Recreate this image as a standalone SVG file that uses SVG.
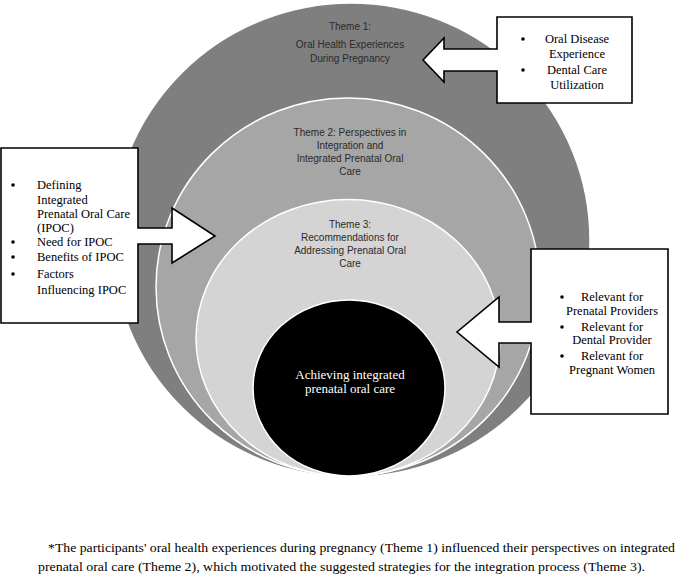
<svg xmlns="http://www.w3.org/2000/svg" width="685" height="577" viewBox="0 0 685 577">
<style>
.ring{stroke:#ffffff;stroke-width:1.5}
.theme{font-family:"Liberation Sans",Arial,sans-serif;font-size:10px;fill:#2a2a2a;text-anchor:middle}
.box{fill:#ffffff;stroke:#000000;stroke-width:1.6;stroke-linejoin:miter}
.bt{font-family:"Liberation Serif","Times New Roman",serif;font-size:12.5px;fill:#000000}
.wt{font-family:"Liberation Serif","Times New Roman",serif;font-size:13px;fill:#ffffff;text-anchor:middle}
.mid{text-anchor:middle}
.bul{fill:#000000}
.cap{font-family:"Liberation Serif","Times New Roman",serif;font-size:13.5px;fill:#000000}
</style>
<rect width="685" height="577" fill="#ffffff"/>
<g id="theme1">
<ellipse class="ring" cx="351" cy="240" rx="239" ry="237" fill="#7f7f7f"/>
<text class="theme" x="350" y="30">Theme 1:</text>
<text class="theme" x="350" y="48">Oral Health Experiences</text>
<text class="theme" x="350" y="62">During Pregnancy</text>
</g>
<g id="theme2">
<ellipse class="ring" cx="348" cy="287" rx="192" ry="189" fill="#a6a6a6"/>
<text class="theme" x="350" y="136">Theme 2: Perspectives in</text>
<text class="theme" x="350" y="149">Integration and</text>
<text class="theme" x="350" y="162">Integrated Prenatal Oral</text>
<text class="theme" x="350" y="175">Care</text>
</g>
<g id="theme3">
<ellipse class="ring" cx="348" cy="338" rx="152" ry="138.5" fill="#d4d4d4"/>
<text class="theme" x="350" y="228">Theme 3:</text>
<text class="theme" x="350" y="241">Recommendations for</text>
<text class="theme" x="350" y="254">Addressing Prenatal Oral</text>
<text class="theme" x="350" y="267">Care</text>
</g>
<g id="center">
<ellipse class="ring" cx="349" cy="388" rx="96" ry="88" fill="#000000"/>
<text class="wt" x="350" y="379">Achieving integrated</text>
<text class="wt" x="350" y="393">prenatal oral care</text>
</g>
<g id="connectors"></g>
<g id="box-top-right">
<path class="box" d="M497,17 H632 V103 H497 V71 H444 V82 L423,60 L444,38 V49 H497 Z"/>
<circle class="bul" cx="523" cy="39" r="1.8"/>
<circle class="bul" cx="523" cy="70" r="1.8"/>
<text class="bt mid" x="577" y="43">Oral Disease</text>
<text class="bt mid" x="577" y="58">Experience</text>
<text class="bt mid" x="577" y="74">Dental Care</text>
<text class="bt mid" x="577" y="89">Utilization</text>
</g>
<g id="box-left">
<path class="box" d="M1,148 H138 V228 H172 V208 L215,236 L172,263 V244 H138 V323 H1 Z"/>
<circle class="bul" cx="13" cy="185" r="1.8"/>
<circle class="bul" cx="13" cy="242" r="1.8"/>
<circle class="bul" cx="13" cy="257" r="1.8"/>
<circle class="bul" cx="13" cy="274" r="1.8"/>
<text class="bt" x="37" y="189">Defining</text>
<text class="bt" x="37" y="204">Integrated</text>
<text class="bt" x="37" y="218">Prenatal Oral Care</text>
<text class="bt" x="37" y="232">(IPOC)</text>
<text class="bt" x="37" y="246">Need for IPOC</text>
<text class="bt" x="37" y="261">Benefits of IPOC</text>
<text class="bt" x="37" y="278">Factors</text>
<text class="bt" x="37" y="294">Influencing IPOC</text>
</g>
<g id="box-right">
<path class="box" d="M531,249 H668 V414 H531 V343 H499 V367 L457,332 L499,297 V322 H531 Z"/>
<circle class="bul" cx="562" cy="297" r="1.8"/>
<circle class="bul" cx="562" cy="327" r="1.8"/>
<circle class="bul" cx="562" cy="356" r="1.8"/>
<text class="bt mid" x="612" y="301">Relevant for</text>
<text class="bt mid" x="612" y="315">Prenatal Providers</text>
<text class="bt mid" x="612" y="331">Relevant for</text>
<text class="bt mid" x="612" y="344">Dental Provider</text>
<text class="bt mid" x="612" y="360">Relevant for</text>
<text class="bt mid" x="612" y="374">Pregnant Women</text>
</g>
<g id="caption">
<text class="cap" x="48" y="552" textLength="627" lengthAdjust="spacingAndGlyphs">*The participants' oral health experiences during pregnancy (Theme 1) influenced their perspectives on integrated</text>
<text class="cap" x="38" y="571" textLength="607" lengthAdjust="spacingAndGlyphs">prenatal oral care (Theme 2), which motivated the suggested strategies for the integration process (Theme 3).</text>
</g>
</svg>
